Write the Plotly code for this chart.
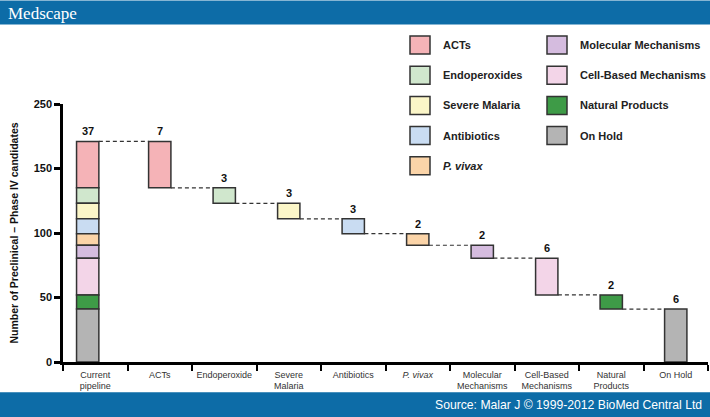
import plotly.graph_objects as go

# ---------------- data ----------------
categories = ["Current<br>pipeline", "ACTs", "Endoperoxide", "Severe<br>Malaria", "Antibiotics",
              "<i>P. vivax</i>", "Molecular<br>Mechanisms", "Cell-Based<br>Mechanisms",
              "Natural<br>Products", "On Hold"]
series_names = ["ACTs", "Endoperoxides", "Severe Malaria", "Antibiotics", "<i>P. vivax</i>",
                "Molecular Mechanisms", "Cell-Based Mechanisms", "Natural Products", "On Hold"]
bar_heights = [36, 12, 12, 11.5, 9, 10, 28.5, 11, 41]
count_labels = [7, 3, 3, 3, 2, 2, 6, 2, 6]
pipeline_label = 37
series_colors = ["#f5b3b7", "#d0e7cd", "#fbf6c8", "#c9dcf2", "#fbd4a8",
                 "#d5bcdf", "#f3d5e8", "#3e9b47", "#b4b4b4"]
y_tick_values = [0, 50, 100, 150, 200]
y_tick_labels = ["0", "50", "100", "150", "250"]

# ---------------- geometry helpers ----------------
W, H = 710, 417
L, R, T, B = 63, 2, 103.5, 55.3
PW, PH = W - L - R, H - T - B


def px_x(px):
    return (px - L) / PW


def px_y(py):
    return (H - B - py) / PH


BW = 0.346
PIPE_OFF = -0.29
FLOAT_OFF = -BW / 2

total = sum(bar_heights)
tops = []
acc = total
for h in bar_heights:
    tops.append(acc)
    acc -= h

fig = go.Figure()
for i, name in enumerate(series_names):
    h = bar_heights[i]
    base = tops[i] - h
    fig.add_trace(go.Bar(
        x=[categories[0], categories[i + 1]],
        y=[h, h],
        base=[base, base],
        offset=[PIPE_OFF, FLOAT_OFF],
        width=[BW, BW],
        name=name,
        showlegend=False,
        marker=dict(color=series_colors[i], line=dict(color="#333333", width=1.5)),
        hoverinfo="skip",
    ))

shapes = []
annotations = []

# dashed connectors
for j in range(len(bar_heights)):
    x0 = (PIPE_OFF + BW) if j == 0 else j + BW / 2
    x1 = (j + 1) - BW / 2
    shapes.append(dict(type="line", xref="x", yref="y", x0=x0, x1=x1, y0=tops[j], y1=tops[j],
                       line=dict(color="#333333", width=1.2, dash="4px,3px")))

lab_font = dict(family="Liberation Sans", size=11, color="#111111", weight="bold")
# count labels
annotations.append(dict(xref="x", yref="y", x=PIPE_OFF + BW / 2, y=total, text=str(pipeline_label),
                        showarrow=False, yanchor="bottom", yshift=2, font=lab_font))
for i, c in enumerate(count_labels):
    annotations.append(dict(xref="x", yref="y", x=i + 1, y=tops[i], text=str(c),
                            showarrow=False, yanchor="bottom", yshift=2, font=lab_font))

# legend (manual, two columns)
leg_cols = [(410, 441), (547, 578)]
row_y0 = 44.5
row_dy = 30.2
for i, name in enumerate(series_names):
    col = 0 if i < 5 else 1
    row = i if i < 5 else i - 5
    sx, tx = leg_cols[col]
    cy = row_y0 + row * row_dy
    shapes.append(dict(type="rect", xref="paper", yref="paper",
                       x0=px_x(sx), x1=px_x(sx + 20), y0=px_y(cy + 9), y1=px_y(cy - 9),
                       fillcolor=series_colors[i], line=dict(color="#333333", width=1.5)))
    annotations.append(dict(xref="paper", yref="paper", x=px_x(tx), y=px_y(cy), text=name,
                            showarrow=False, xanchor="left", yanchor="middle",
                            font=dict(family="Liberation Sans", size=11, color="#222222", weight="bold")))

# header & footer bands
blue = "#0d6ca7"
shapes.append(dict(type="rect", xref="paper", yref="paper", layer="below",
                   x0=px_x(0), x1=px_x(W), y0=px_y(24), y1=px_y(0), fillcolor=blue, line=dict(width=0)))
shapes.append(dict(type="rect", xref="paper", yref="paper", layer="below",
                   x0=px_x(0), x1=px_x(W), y0=px_y(H), y1=px_y(392), fillcolor=blue, line=dict(width=0)))
annotations.append(dict(xref="paper", yref="paper", x=px_x(6), y=px_y(12.5), text="Medscape",
                        showarrow=False, xanchor="left", yanchor="middle",
                        font=dict(family="Liberation Serif", size=17, color="white")))
annotations.append(dict(xref="paper", yref="paper", x=px_x(704), y=px_y(405), text="Source: Malar J © 1999-2012 BioMed Central Ltd",
                        showarrow=False, xanchor="right", yanchor="middle",
                        font=dict(family="Liberation Sans", size=12.2, color="white")))

fig.update_layout(
    width=W, height=H,
    margin=dict(l=L, r=R, t=T, b=B),
    paper_bgcolor="white", plot_bgcolor="white",
    barmode="overlay",
    showlegend=False,
    shapes=shapes,
    annotations=annotations,
    xaxis=dict(
        type="category", categoryorder="array", categoryarray=categories,
        range=[-0.5, 9.5],
        showline=True, linecolor="black", linewidth=2.5,
        ticks="outside", tickson="boundaries", ticklen=6, tickwidth=2, tickcolor="black",
        tickfont=dict(family="Liberation Sans", size=9, color="#333333"),
        tickangle=0,
        ticklabelstandoff=2,
        showgrid=False, zeroline=False, fixedrange=True,
    ),
    yaxis=dict(
        range=[0, 200],
        tickvals=y_tick_values, ticktext=y_tick_labels,
        showline=True, linecolor="black", linewidth=2.5,
        ticks="outside", ticklen=6, tickwidth=2.5, tickcolor="black",
        tickfont=dict(family="Liberation Sans", size=11, color="#111111", weight="bold"),
        showgrid=False, zeroline=False, fixedrange=True,
        title=dict(text="Number of Preclinical – Phase IV candidates", standoff=14,
                   font=dict(family="Liberation Sans", size=10.5, color="#111111", weight="bold")),
    ),
)

fig.write_html("out.html", config={"displayModeBar": False},
               post_script="document.body.style.margin='0';")
